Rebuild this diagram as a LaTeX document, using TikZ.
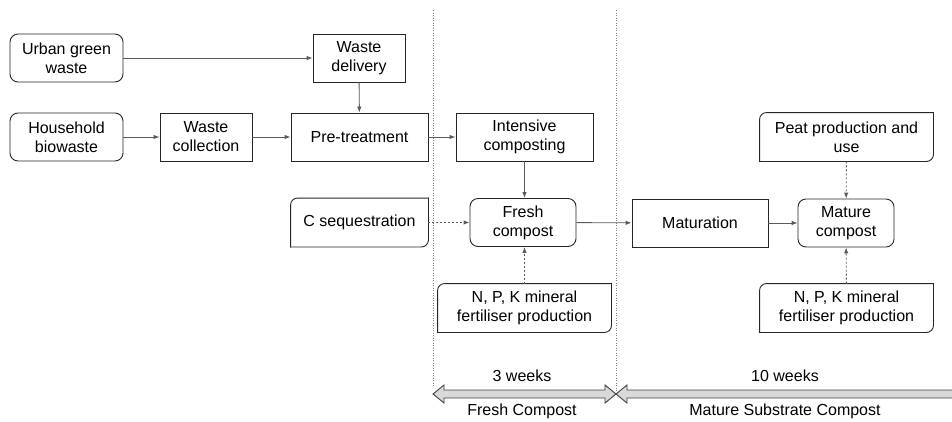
\documentclass[tikz,border=0pt]{standalone}
\usepackage{fontspec}
\setmainfont{Liberation Sans}
\usetikzlibrary{arrows.meta, positioning}

\tikzset{
  box/.style={draw=black!85, line width=0.9pt, align=center, minimum height=48pt,
    inner sep=2pt, font=\fontsize{16}{19}\selectfont},
  roundbox/.style={box, rounded corners=8pt},
  inbox/.style={box, draw=none},
  flow/.style={->, draw=black!65, line width=0.9pt},
  aux/.style={flow, dash pattern=on 2pt off 2pt},
  phase/.style={draw=black!50, line width=1pt, dash pattern=on 1pt off 1.5pt},
  span/.style={fill=black!15, draw=black!75, line width=0.9pt, line join=miter},
  spantext/.style={font=\fontsize{16}{19}\selectfont}
}

\begin{document}
\begin{tikzpicture}[x=1pt, y=-1pt, >={Latex[length=6pt,width=4.5pt]}]
  \useasboundingbox (0,0) rectangle (952,421);

  % phase borders
  \coordinate (top1) at (433,10);
  \coordinate (bot1) at (433,386);
  \coordinate (top2) at (616,10);
  \coordinate (bot2) at (616,394);
  \draw[phase] (top1) -- (bot1);
  \draw[phase] (top2) -- (bot2);

  % process boxes
  \node[roundbox, minimum width=113pt] (ugw) at (66.5,58) {Urban green\\waste};
  \node[box, minimum width=92pt] (wdel) at (359,58) {Waste\\delivery};
  \node[roundbox, minimum width=113pt] (hbw) at (66.5,137) {Household\\biowaste};
  \node[box, minimum width=92pt] (wcol) at (206,137) {Waste\\collection};
  \node[box, minimum width=137pt] (pret) at (359.5,137) {Pre-treatment};
  \node[box, minimum width=137pt] (intc) at (524.5,137) {Intensive\\composting};
  \node[roundbox, minimum width=106pt] (fresh) at (523,222.5) {Fresh\\compost};
  \node[box, minimum width=136pt] (matur) at (700,223) {Maturation};
  \node[roundbox, minimum width=96pt] (mature) at (846,223) {Mature\\compost};

  % avoided / external inputs
  \node[inbox, minimum width=137pt] (cseq) at (359.5,222.5) {C sequestration};
  \node[inbox, minimum width=173pt] (npk1) at (524.5,308) {N, P, K mineral\\fertiliser production};
  \node[inbox, minimum width=173pt] (peat) at (846.5,137) {Peat production and\\use};
  \node[inbox, minimum width=173pt] (npk2) at (846.5,308) {N, P, K mineral\\fertiliser production};
  \foreach \n in {cseq, npk1, peat, npk2} {
    \draw[black!85, line width=0.9pt, line cap=rect, rounded corners=7pt]
      (\n.south west) -- (\n.north west) -- (\n.north east);
    \draw[black!85, line width=0.9pt, line cap=rect, rounded corners=7pt]
      (\n.north east) -- (\n.south east) -- (\n.south west);
  }

  % main flow
  \draw[flow] (ugw) -- (wdel);
  \draw[flow] (wdel) -- (pret);
  \draw[flow] (hbw) -- (wcol);
  \draw[flow] (wcol) -- (pret);
  \draw[flow] (pret) -- (intc);
  \draw[flow] (intc.south) -- (intc.south |- fresh.north);
  \draw[flow] (fresh) -- (matur);
  \draw[flow] (matur) -- (mature);

  % substituted products
  \draw[aux] (cseq) -- (fresh);
  \draw[aux] (npk1.north) -- (npk1.north |- fresh.south);
  \draw[aux] (peat) -- (mature);
  \draw[aux] (npk2) -- (mature);

  % durations
  \draw[span] (433,394) -- (444,385) -- (444,390) -- (605,390) -- (605,385) -- (616,394)
    -- (605,403) -- (605,398) -- (444,398) -- (444,403) -- cycle;
  \begin{scope}
    \clip (0,0) rectangle (952,421);
    \draw[span] (960,390) -- (627,390) -- (627,385) -- (616,394) -- (627,403)
      -- (627,398) -- (960,398);
  \end{scope}
  \node[spantext] (wk3) at (522,376) {3 weeks};
  \node[spantext] (fcp) at (522,411) {Fresh Compost};
  \node[spantext] (wk10) at (785,376) {10 weeks};
  \node[spantext] (msc) at (785,411) {Mature Substrate Compost};
\end{tikzpicture}
\end{document}
